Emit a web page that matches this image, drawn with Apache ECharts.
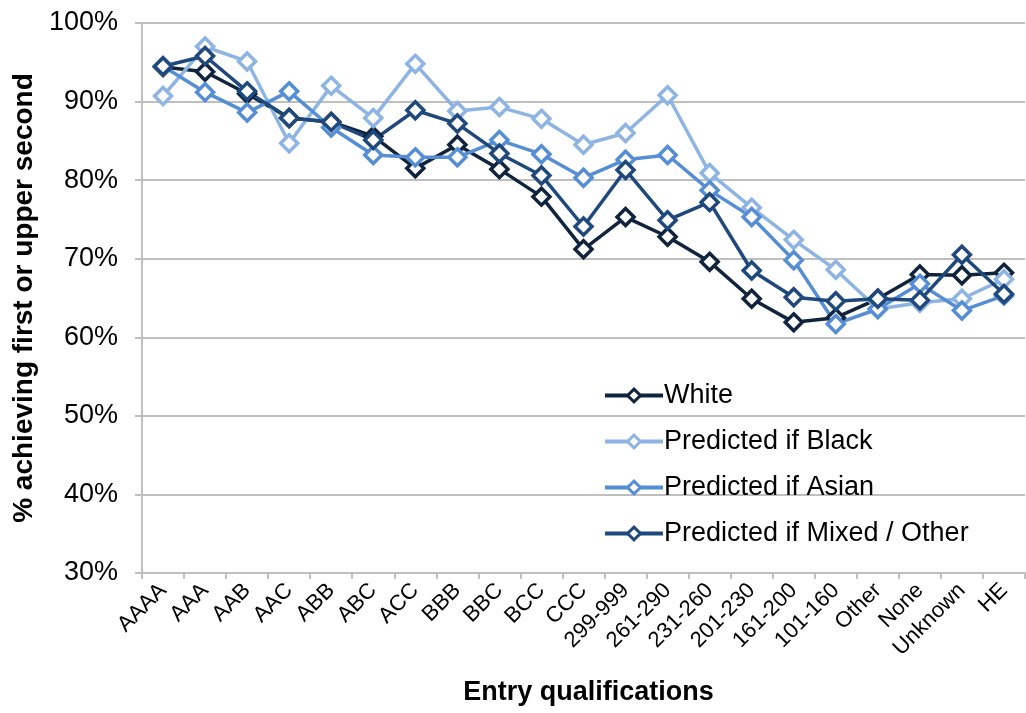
<!DOCTYPE html>
<html>
<head>
<meta charset="utf-8">
<script src="https://cdn.jsdelivr.net/npm/echarts@6/dist/echarts.min.js"></script>
<style>
html,body{margin:0;padding:0;background:#fff;}
#chart{width:1026px;height:713px;}
</style>
</head>
<body>
<div id="chart"></div>
<script>
const categories = ['AAAA','AAA','AAB','AAC','ABB','ABC','ACC','BBB','BBC','BCC','CCC','299-999','261-290','231-260','201-230','161-200','101-160','Other','None','Unknown','HE'];
const white  = [94.4, 93.8, 91.0, 87.9, 87.4, 85.6, 81.5, 84.5, 81.4, 77.9, 71.2, 75.3, 72.8, 69.6, 64.9, 61.9, 62.5, 64.9, 68.0, 67.9, 68.2];
const black  = [90.7, 97.0, 95.1, 84.7, 92.0, 87.9, 94.8, 88.8, 89.3, 87.8, 84.5, 86.0, 90.8, 80.9, 76.5, 72.4, 68.6, 63.6, 64.4, 64.9, 67.4];
const asian  = [94.5, 91.2, 88.6, 91.3, 86.7, 83.2, 82.9, 82.9, 85.1, 83.3, 80.3, 82.6, 83.2, 78.7, 75.3, 69.8, 61.7, 63.6, 66.8, 63.4, 65.3];
const mixed  = [94.5, 95.8, 91.3, 87.9, 87.4, 85.1, 88.9, 87.2, 83.4, 80.6, 74.1, 81.3, 74.9, 77.2, 68.5, 65.1, 64.6, 64.9, 64.7, 70.5, 65.5];
const seriesNames = ['White','Predicted if Black','Predicted if Asian','Predicted if Mixed / Other'];
const seriesColors = ['#10243e','#8db4e2','#558ed5','#1f497d'];
const yTicks = [30, 40, 50, 60, 70, 80, 90, 100];

const chart = echarts.init(document.getElementById('chart'));
const font = 'Liberation Sans, Arial, sans-serif';
const mk = (name, data, color) => ({
  name, type: 'line', data,
  symbol: 'diamond', symbolSize: 17,
  lineStyle: {color, width: 3.5},
  itemStyle: {color: '#ffffff', borderColor: color, borderWidth: 3.5},
  emphasis: {disabled: true},
  animation: false
});
chart.setOption({
  animation: false,
  grid: {left: 142, right: 1, top: 23, bottom: 140, containLabel: false},
  legend: {
    orient: 'vertical', left: 598, top: 377, itemGap: 19,
    itemWidth: 58, itemHeight: 16,
    lineStyle: {width: 4},
    itemStyle: {borderWidth: 3},
    textStyle: {fontFamily: font, fontSize: 27, lineHeight: 27, color: '#000', padding: [0,0,0,-4]},
    data: seriesNames
  },
  xAxis: {
    type: 'category', data: categories, boundaryGap: true,
    name: 'Entry qualifications', nameLocation: 'middle', nameGap: 106,
    nameTextStyle: {fontFamily: font, fontSize: 27, fontWeight: 'bold', color: '#000', padding: [0,0,0,10]},
    axisLine: {lineStyle: {color: '#bfbfbf', width: 2}},
    axisTick: {show: true, alignWithLabel: false, length: 6, lineStyle: {color: '#bfbfbf', width: 2}},
    axisLabel: {rotate: 45, fontFamily: font, fontSize: 22, color: '#000', margin: 14, interval: 0}
  },
  yAxis: {
    type: 'value', min: yTicks[0], max: yTicks[yTicks.length-1], interval: 10,
    name: '% achieving first or upper second', nameLocation: 'middle', nameGap: 100,
    nameTextStyle: {fontFamily: font, fontSize: 28, fontWeight: 'bold', color: '#000'},
    axisLine: {show: true, lineStyle: {color: '#bfbfbf', width: 2}},
    axisTick: {show: true, length: 7, lineStyle: {color: '#bfbfbf', width: 2}},
    splitLine: {lineStyle: {color: '#bfbfbf', width: 2}},
    axisLabel: {formatter: '{value}%', fontFamily: font, fontSize: 27, color: '#000', margin: 24}
  },
  series: [
    mk(seriesNames[0], white, seriesColors[0]),
    mk(seriesNames[1], black, seriesColors[1]),
    mk(seriesNames[2], asian, seriesColors[2]),
    mk(seriesNames[3], mixed, seriesColors[3])
  ]
});
</script>
</body>
</html>
